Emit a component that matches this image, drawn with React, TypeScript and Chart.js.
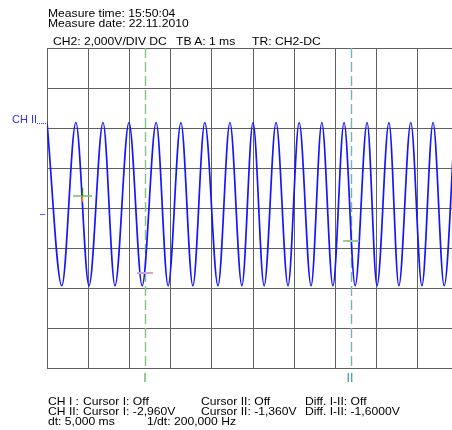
import { useEffect, useRef } from "react";
import { Chart, registerables } from "chart.js";

Chart.register(...registerables);

// CH2 trace, listed as its successive peaks and troughs (time in ms from the left screen edge, level in V)
const extremeTimesMs = [
  0.0, 0.36, 0.7, 1.02, 1.36, 1.65, 1.99, 2.31, 2.65, 2.94, 3.25, 3.54, 3.83, 4.15, 4.44, 4.73, 5.0, 5.27,
  5.56, 5.85, 6.12, 6.41, 6.67, 6.94, 7.21, 7.48, 7.77, 8.01, 8.3, 8.54, 8.83, 9.1, 9.37, 9.64, 9.9,
];
const extremeVolts = [
  4.56, -3.59, 4.56, -3.59, 4.56, -3.59, 4.56, -3.59, 4.56, -3.59, 4.56, -3.59, 4.56, -3.59, 4.56, -3.59, 4.56,
  -3.59, 4.56, -3.59, 4.56, -3.59, 4.56, -3.59, 4.56, -3.59, 4.56, -3.59, 4.56, -3.59, 4.56, -3.59, 4.56, -3.59,
  4.56,
];

// Screen graticule: 1 ms/div horizontally, 2 V/div vertically
const timeGridMs = [0, 1, 2, 3, 4, 5, 6, 7, 8, 9];
const voltGridV = [-7.72, -5.72, -3.72, -1.72, 0.28, 2.28, 4.28, 6.28, 8.28];
const screenStartMs = 0;
const screenEndMs = 9.83;

// Cursors I and II
const cursorNames = ["I", "II"];
const cursorTimesMs = [2.38, 7.38];
const cursorVolts = [-2.96, -1.36];

// Trigger point, channel marker and ground level
const triggerTimeMs = 0.85;
const triggerVolt = 0.9;
const ch2MarkerVolt = 4.53;
const groundVolt = 0;

// Readout texts
const headerLines = ["Measure time: 15:50:04", "Measure date: 22.11.2010"];
const settingsTexts = ["CH2: 2,000V/DIV DC", "TB A: 1 ms", "TR: CH2-DC"];
const footerRows = [
  ["CH I :", "Cursor I: Off", "Cursor II: Off", "Diff. I-II: Off"],
  ["CH II:", "Cursor I: -2,960V", "Cursor II: -1,360V", "Diff. I-II: -1,6000V"],
];
const dtTexts = ["dt: 5,000 ms", "1/dt: 200,000 Hz"];

const GRID = "rgb(96,96,96)";
const TRACE = "rgb(22,22,250)";
const CURSOR_COLORS = ["rgb(130,195,130)", "rgb(120,180,180)"];
const CURSOR_LEVEL_COLORS = ["rgb(205,165,215)", "rgb(150,205,150)"];
const CURSOR_LABEL_COLORS = ["rgb(80,170,80)", "rgb(50,150,150)"];

const scopeMarks = {
  id: "scopeMarks",
  beforeDatasetsDraw(chart: any) {
    const { ctx, chartArea: a, scales } = chart;
    const x = scales.x;
    ctx.save();
    ctx.lineWidth = 1.4;
    ctx.setLineDash([10, 4]);
    cursorTimesMs.forEach((t, i) => {
      const px = Math.round(x.getPixelForValue(t)) + 0.5;
      ctx.strokeStyle = CURSOR_COLORS[i];
      ctx.beginPath();
      ctx.moveTo(px, a.top);
      ctx.lineTo(px, a.bottom);
      ctx.stroke();
    });
    ctx.restore();
  },
  afterDatasetsDraw(chart: any) {
    const { ctx, chartArea: a, scales } = chart;
    const x = scales.x;
    const y = scales.y;
    ctx.save();

    // cursor level ticks
    ctx.lineWidth = 2;
    cursorTimesMs.forEach((t, i) => {
      const px = x.getPixelForValue(t);
      const py = Math.round(y.getPixelForValue(cursorVolts[i]));
      ctx.strokeStyle = CURSOR_LEVEL_COLORS[i];
      ctx.beginPath();
      ctx.moveTo(px - 8, py);
      ctx.lineTo(px + 8, py);
      ctx.stroke();
    });

    // trigger cross
    const tx = Math.round(x.getPixelForValue(triggerTimeMs)) + 0.5;
    const ty = Math.round(y.getPixelForValue(triggerVolt));
    ctx.lineWidth = 1.6;
    ctx.strokeStyle = "rgb(120,195,110)";
    ctx.beginPath();
    ctx.moveTo(tx - 9.5, ty);
    ctx.lineTo(tx + 9.5, ty);
    ctx.stroke();
    ctx.lineWidth = 1.4;
    ctx.strokeStyle = "rgb(40,130,40)";
    ctx.beginPath();
    ctx.moveTo(tx, ty - 8);
    ctx.lineTo(tx, ty);
    ctx.stroke();
    ctx.strokeStyle = "rgb(235,140,30)";
    ctx.beginPath();
    ctx.moveTo(tx, ty);
    ctx.lineTo(tx, ty + 6);
    ctx.stroke();

    // ground marker left of the screen
    const gy = Math.round(y.getPixelForValue(groundVolt)) + 0.5;
    ctx.strokeStyle = "rgb(100,100,255)";
    ctx.lineWidth = 1.2;
    ctx.beginPath();
    ctx.moveTo(a.left - 7, gy);
    ctx.lineTo(a.left - 2, gy);
    ctx.stroke();

    // CH II channel marker leader
    const my = Math.round(y.getPixelForValue(ch2MarkerVolt)) + 0.5;
    ctx.strokeStyle = "rgb(60,60,255)";
    ctx.lineWidth = 1;
    ctx.setLineDash([1, 1]);
    ctx.beginPath();
    ctx.moveTo(a.left - 10, my);
    ctx.lineTo(a.left, my);
    ctx.stroke();

    ctx.restore();
  },
};

const textBase: any = {
  position: "absolute",
  fontFamily: '"Liberation Sans", Arial, sans-serif',
  fontSize: "10.2px",
  lineHeight: "10px",
  color: "#000",
  whiteSpace: "pre",
  transform: "scaleX(1.19)",
  transformOrigin: "0 0",
};

function Label({ left, top, text }: { left: number; top: number; text: string }) {
  return <div style={{ ...textBase, left, top }}>{text}</div>;
}

export default function App() {
  const canvasRef = useRef<HTMLCanvasElement | null>(null);

  useEffect(() => {
    const canvas = canvasRef.current;
    if (!canvas) return;
    const chart = new Chart(canvas, {
      type: "line",
      data: {
        datasets: [
          {
            data: extremeTimesMs.map((t, i) => ({ x: t, y: extremeVolts[i] })),
            borderColor: TRACE,
            borderWidth: 1.7,
            pointRadius: 0,
            cubicInterpolationMode: "monotone",
            fill: false,
          },
        ],
      },
      options: {
        responsive: false,
        animation: false,
        devicePixelRatio: 1,
        events: [],
        layout: { padding: { left: 47, top: 48, right: 0, bottom: 61.5 } },
        plugins: {
          legend: { display: false },
          tooltip: { enabled: false },
          title: { display: false },
        },
        scales: {
          x: {
            type: "linear",
            min: screenStartMs,
            max: screenEndMs,
            border: { display: false },
            grid: { color: GRID, lineWidth: 1, drawTicks: false },
            ticks: { display: false },
            afterBuildTicks: (s: any) => {
              s.ticks = timeGridMs.map((v) => ({ value: v }));
            },
          },
          y: {
            type: "linear",
            min: voltGridV[0],
            max: voltGridV[voltGridV.length - 1],
            border: { display: false },
            grid: { color: GRID, lineWidth: 1, drawTicks: false },
            ticks: { display: false },
            afterBuildTicks: (s: any) => {
              s.ticks = voltGridV.map((v) => ({ value: v }));
            },
          },
        },
      } as any,
      plugins: [scopeMarks],
    });
    return () => chart.destroy();
  }, []);

  const footerCols = [47.5, 83, 200.8, 305];
  const footerTops = [397.2, 406.8];

  return (
    <div
      style={{
        position: "fixed",
        left: 0,
        top: 0,
        width: 452,
        height: 430,
        background: "#fff",
        overflow: "hidden",
      }}
    >
      <canvas ref={canvasRef} width={452} height={430} style={{ position: "absolute", left: 0, top: 0, width: 452, height: 430 }} />

      <Label left={48} top={8.8} text={headerLines[0]} />
      <Label left={48} top={18.8} text={headerLines[1]} />
      <Label left={53.3} top={36.5} text={settingsTexts[0]} />
      <Label left={175.7} top={36.5} text={settingsTexts[1]} />
      <Label left={251.7} top={36.5} text={settingsTexts[2]} />

      <div
        style={{
          position: "absolute",
          left: 12,
          top: 114,
          fontFamily: '"Liberation Sans", Arial, sans-serif',
          fontSize: "11px",
          lineHeight: "11px",
          color: "rgb(50,50,255)",
          whiteSpace: "pre",
        }}
      >
        CH II
      </div>

      {cursorNames.map((n, i) => (
        <div
          key={n}
          style={{
            position: "absolute",
            left: i === 0 ? 143.3 : 346.6,
            top: 372,
            fontFamily: '"Liberation Sans", Arial, sans-serif',
            fontSize: "12.5px",
            lineHeight: "12px",
            color: CURSOR_LABEL_COLORS[i],
            whiteSpace: "pre",
          }}
        >
          {n}
        </div>
      ))}

      {footerRows.map((row, r) =>
        row.map((txt, c) => <Label key={`${r}-${c}`} left={footerCols[c]} top={footerTops[r]} text={txt} />)
      )}
      <Label left={47.5} top={416.8} text={dtTexts[0]} />
      <Label left={146.7} top={416.8} text={dtTexts[1]} />
    </div>
  );
}
